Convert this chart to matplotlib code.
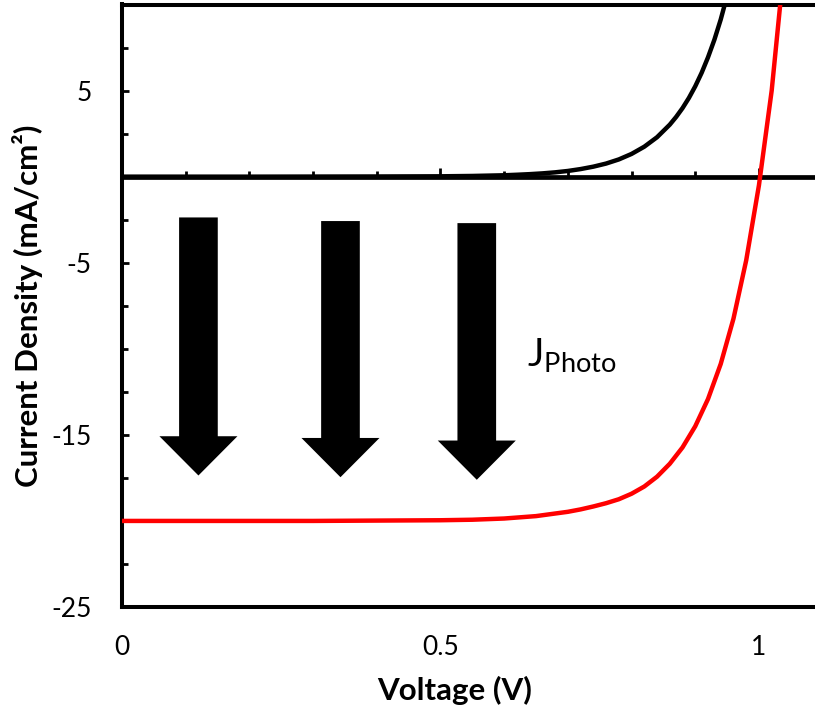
import matplotlib
matplotlib.use("Agg")
import matplotlib.pyplot as plt
from matplotlib.ticker import FixedLocator, MultipleLocator, FixedFormatter

# ---------------- data ----------------
dark_v = [0.0, 0.2, 0.4, 0.5, 0.55, 0.60, 0.62, 0.64, 0.66, 0.68, 0.70, 0.72, 0.74,
          0.76, 0.78, 0.80, 0.82, 0.84, 0.86, 0.87, 0.88, 0.89, 0.90, 0.91, 0.92,
          0.93, 0.94, 0.95]
dark_j = [0.0, 0.0, 0.01, 0.02, 0.04, 0.08, 0.11, 0.145, 0.19, 0.25, 0.33, 0.44, 0.58,
          0.76, 1.0, 1.32, 1.74, 2.29, 3.02, 3.47, 3.98, 4.57, 5.25, 6.03, 6.93,
          7.95, 9.13, 10.5]

light_v = [0.0, 0.3, 0.5, 0.55, 0.60, 0.65, 0.70, 0.72, 0.74, 0.76, 0.78, 0.80, 0.82,
           0.84, 0.86, 0.88, 0.90, 0.92, 0.94, 0.96, 0.98, 1.00, 1.02, 1.035]
light_j = [-20.0, -20.0, -19.96, -19.93, -19.86, -19.72, -19.47, -19.33, -19.16, -18.97,
           -18.74, -18.42, -18.0, -17.43, -16.68, -15.73, -14.5, -12.92, -10.88, -8.25,
           -4.86, -0.5, 5.0, 10.6]

# arrows (x position, top, tip) in data units
arrow_x = [0.120, 0.343, 0.557]
arrow_top = [-2.37, -2.58, -2.70]
arrow_tip = [-17.36, -17.46, -17.61]

xtick_vals = [0, 0.5, 1]
xtick_labels = ["0", "0.5", "1"]
ytick_vals = [-25, -15, -5, 5]
ytick_labels = ["-25", "-15", "-5", "5"]

FONT = "Lato"
plt.rcParams["font.family"] = [FONT, "DejaVu Sans"]
plt.rcParams["mathtext.fontset"] = "custom"
plt.rcParams["mathtext.rm"] = FONT

fig = plt.figure(figsize=(8.15, 7.13), dpi=100)
W, H = 815, 713
left_px, bottom_px, top_px = 122, 607, 4.5
ax = fig.add_axes([left_px / W, (H - bottom_px) / H, 1 - left_px / W, (bottom_px - top_px) / H])

ax.set_xlim(0, 1.088)
ax.set_ylim(-25, 10)

ax.plot(dark_v, dark_j, color="black", lw=3.2, zorder=3, solid_capstyle="butt")
ax.plot(light_v, light_j, color="#ff0000", lw=3.2, zorder=3, solid_capstyle="butt")

for x, t, b in zip(arrow_x, arrow_top, arrow_tip):
    ax.arrow(x, t, 0, b - t, width=0.0607, head_width=0.1225, head_length=2.28,
             length_includes_head=True, color="black", lw=0, zorder=4)

ax.text(0.636, -11.04, r"J$_{\mathregular{Photo}}$", fontsize=28, ha="left",
        va="baseline", color="black")

# spines
ax.spines["right"].set_visible(False)
ax.spines["top"].set_linewidth(2.9)
ax.spines["left"].set_linewidth(2.9)
ax.spines["bottom"].set_position(("data", 0))
ax.spines["bottom"].set_linewidth(3.4)

# x ticks on the zero line (no labels)
ax.xaxis.set_major_locator(MultipleLocator(0.5))
ax.xaxis.set_minor_locator(MultipleLocator(0.1))
ax.tick_params(axis="x", which="major", direction="in", length=6.5, width=2.0,
               labelbottom=False)
ax.tick_params(axis="x", which="minor", direction="in", length=4.3, width=2.0)

# y ticks
ax.yaxis.set_major_locator(FixedLocator(ytick_vals))
ax.yaxis.set_major_formatter(FixedFormatter(ytick_labels))
ax.yaxis.set_minor_locator(MultipleLocator(2.5))
ax.tick_params(axis="y", which="major", direction="in", length=5.0, width=2.0,
               pad=22, labelsize=19)
ax.tick_params(axis="y", which="minor", direction="in", length=4.3, width=2.0)

# bottom axis with labels
sec = ax.secondary_xaxis(0.0)
sec.set_xticks(xtick_vals)
sec.set_xticklabels(xtick_labels)
sec.tick_params(axis="x", length=0, pad=20, labelsize=19)
sec.spines["bottom"].set_linewidth(2.9)

ax.set_xlabel("Voltage (V)", fontsize=22.5, fontweight="bold")
ax.xaxis.set_label_coords(0.48, -0.154)
ax.xaxis.label.set_va("baseline")
ax.set_ylabel("Current Density (mA/cm²)", fontsize=22.5, fontweight="bold")
ax.yaxis.set_label_coords(-0.136, 0.5)
ax.yaxis.label.set_va("center")

fig.savefig("out.png", dpi=100)
